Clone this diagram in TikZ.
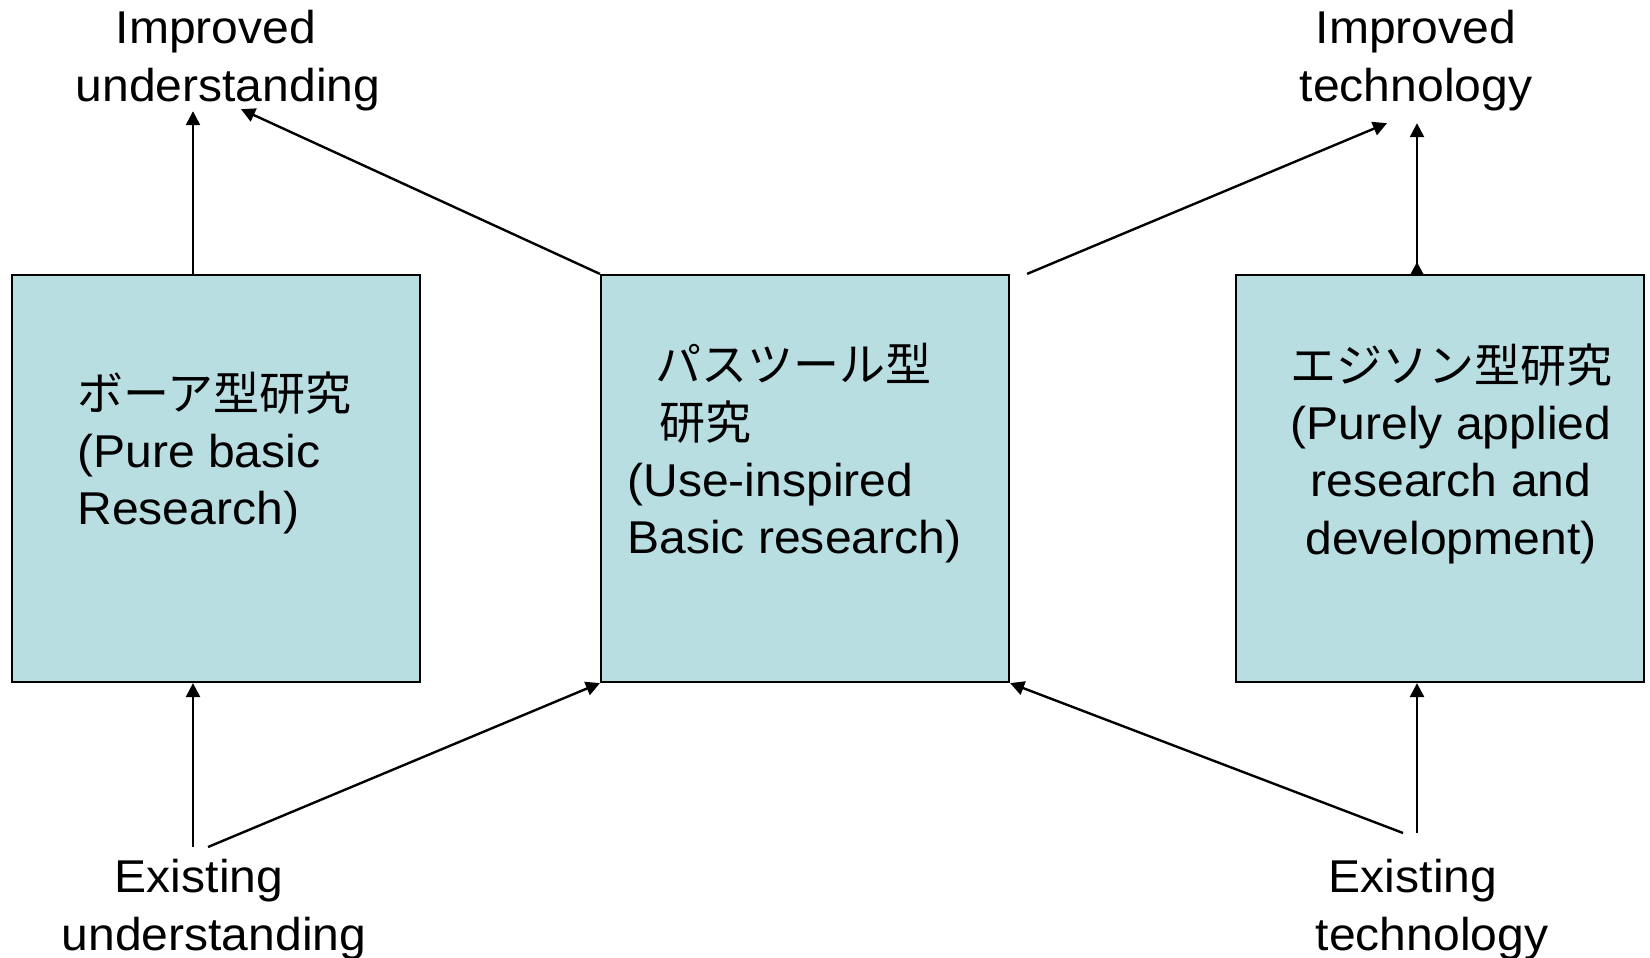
\documentclass[tikz,border=0pt]{standalone}
\usepackage{fontspec}
\setmainfont[FakeStretch=1.045]{Liberation Sans}
\newfontfamily\jpfont{Noto Sans CJK JP}
\usetikzlibrary{arrows.meta,positioning}
\definecolor{boxblue}{RGB}{184,222,226}

\begin{document}
\begin{tikzpicture}[x=0.5pt,y=-0.5pt,
    typebox/.style={draw,fill=boxblue,line width=1.1pt,minimum width=204pt,minimum height=203.5pt,inner sep=0pt},
    lbl/.style={align=center,inner sep=0pt,font=\fontsize{23}{29}\selectfont},
    boxtxt/.style={inner sep=0pt,font=\fontsize{23}{28.7}\selectfont},
    arr/.style={line width=1.2pt,-{Triangle[length=7pt,width=7pt]}}]
    \useasboundingbox (0,0) rectangle (1650,958);
    % the three kinds of research
    \node[typebox] (bohr) at (216,478.5) {};
    \node[typebox] (pasteur) at (805,478.5) {};
    \node[typebox] (edison) at (1440,478.5) {};
    \node[boxtxt,align=left,anchor=north west] (bohrtxt) at (77,371) {{\jpfont ボーア型研究}\\(Pure basic\\Research)};
    \node[boxtxt,align=left,anchor=north west] (pasteurtxt) at (627,343) {\hspace{14pt}{\jpfont パスツール型}\\\hspace{16pt}{\jpfont 研究}\\(Use-inspired\\Basic research)};
    \node[boxtxt,align=center,anchor=north] (edisontxt) at (1451,343) {{\jpfont エジソン型研究}\\(Purely applied\\research and\\development)};
    % understanding and technology
    \node[lbl,anchor=north] (impU) at (228,9.5) {Improved\hspace*{12pt}\\understanding};
    \node[lbl,anchor=north] (impT) at (1416,9.5) {Improved\\technology};
    \node[lbl,anchor=north] (exU) at (214,859) {Existing\hspace*{15pt}\\understanding};
    \node[lbl,anchor=north] (exT) at (1432,859) {Existing\hspace*{19pt}\\technology};
    % arrows
    \draw[arr] ([shift={(-23,0)}]bohr.north) -- ([shift={(-23,0)}]bohr.north |- impU.south);
    \draw[arr] (pasteur.north west) -- ([shift={(13,-2)}]impU.south);
    \draw[arr] ([shift={(17,0)}]pasteur.north east) -- ([shift={(-29,12)}]impT.south);
    \draw[arr,{Triangle[reversed,length=6pt,width=6pt]}-{Triangle[length=7pt,width=7pt]}] ([shift={(-23,0)}]edison.north) -- ([shift={(-23,12)}]edison.north |- impT.south);
    \draw[arr] ([shift={(-23,-12)}]bohr.south |- exU.north) -- ([shift={(-23,0)}]bohr.south);
    \draw[arr] ([shift={(-6,-12)}]exU.north) -- (pasteur.south west);
    \draw[arr] ([shift={(-23,-26)}]edison.south |- exT.north) -- ([shift={(-23,0)}]edison.south);
    \draw[arr] ([shift={(-29,-26)}]exT.north) -- (pasteur.south east);
\end{tikzpicture}
\end{document}
